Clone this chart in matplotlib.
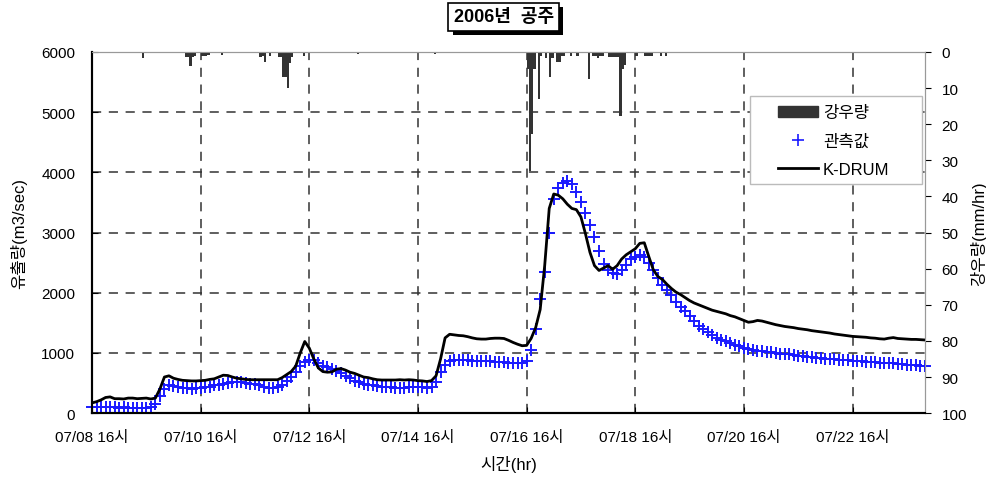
import numpy as np
import matplotlib.pyplot as plt
from matplotlib.patches import Patch, Rectangle
from matplotlib.lines import Line2D
import matplotlib.patheffects as pe

plt.rcParams['font.family'] = ['Liberation Sans', 'Noto Sans CJK KR', 'DejaVu Sans']
plt.rcParams['axes.unicode_minus'] = False

# observed discharge (m3/sec), every 2 hours from 07/08 16시
obs = [110, 100, 110, 100, 110, 100, 90, 100, 90, 80, 90, 80, 90, 110, 150, 280, 400, 460, 450, 430,
       420, 410, 400, 410, 420, 430, 440, 460, 470, 490, 500, 510, 515, 510, 500, 490, 480, 460, 440, 420,
       415, 430, 470, 530, 600, 690, 780, 850, 890, 880, 830, 790, 760, 730, 700, 660, 620, 580, 540, 510,
       490, 470, 460, 450, 440, 430, 430, 420, 420, 420, 430, 430, 430, 430, 420, 440, 520, 690, 800, 860,
       880, 890, 890, 880, 870, 870, 860, 860, 860, 850, 850, 850, 840, 840, 840, 840, 860, 1050, 1400, 1900,
       2350, 3000, 3560, 3740, 3820, 3860, 3800, 3680, 3500, 3320, 3130, 2930, 2700, 2480, 2380, 2330, 2310, 2380, 2460, 2560,
       2600, 2620, 2600, 2500, 2380, 2240, 2130, 2040, 1960, 1850, 1770, 1690, 1610, 1530, 1450, 1390, 1340, 1290, 1250, 1220,
       1190, 1160, 1130, 1110, 1090, 1070, 1050, 1040, 1030, 1020, 1010, 1000, 990, 980, 975, 965, 955, 945, 935, 925,
       915, 910, 905, 900, 895, 885, 880, 875, 870, 865, 860, 855, 850, 845, 840, 835, 830, 825, 820, 812,
       805, 800, 795, 790, 785]

# K-DRUM simulated discharge, every 2 hours
sim = [170, 190, 220, 260, 270, 240, 240, 235, 250, 250, 240, 245, 250, 235, 250, 400, 600, 620, 580, 560,
       545, 540, 535, 535, 540, 545, 560, 570, 600, 630, 625, 600, 580, 570, 560, 555, 555, 555, 555, 555,
       555, 555, 590, 640, 690, 780, 1000, 1190, 1080, 900, 750, 690, 680, 685, 730, 740, 715, 680, 660, 630,
       600, 590, 570, 555, 550, 550, 550, 550, 555, 550, 555, 550, 540, 535, 525, 540, 620, 900, 1250, 1310,
       1300, 1290, 1285, 1270, 1250, 1235, 1230, 1230, 1240, 1245, 1245, 1240, 1210, 1175, 1145, 1120, 1125, 1240, 1420, 1720,
       2450, 3400, 3640, 3620, 3560, 3470, 3400, 3380, 3260, 2980, 2670, 2450, 2370, 2410, 2450, 2390, 2450, 2560, 2630, 2680,
       2730, 2820, 2830, 2600, 2380, 2270, 2220, 2140, 2070, 2010, 1970, 1920, 1870, 1830, 1800, 1770, 1740, 1710, 1690, 1670,
       1650, 1620, 1600, 1570, 1540, 1510, 1520, 1540, 1530, 1510, 1490, 1470, 1455, 1440, 1430, 1420, 1405, 1395, 1385, 1370,
       1360, 1350, 1340, 1330, 1315, 1305, 1295, 1285, 1275, 1270, 1265, 1260, 1250, 1245, 1235, 1230, 1245, 1255, 1240, 1235,
       1230, 1225, 1225, 1220, 1215]

# hourly rainfall (mm/hr), hour index from 07/08 16시
rain_hr = [22, 41, 42, 43, 44, 45, 48, 49, 50, 51, 57, 74, 75, 76, 78, 82, 83, 84, 85, 86,
           87, 88, 93, 117, 151, 192, 193, 194, 195, 197, 198, 200, 202, 203, 205, 206, 207, 208, 211, 214,
           219, 221, 222, 223, 224, 225, 228, 229, 230, 231, 232, 233, 234, 235, 240, 244, 245, 246, 247, 251, 253]
rain_mm = [1.7, 1.4, 1.4, 4.0, 1.4, 1.0, 1.0, 1.0, 1.0, 0.8, 0.8, 1.4, 1.0, 2.8, 1.0, 1.5, 1.5, 7.0, 7.0, 10.0,
           3.0, 1.5, 1.0, 0.5, 0.5, 4.7, 33.0, 22.7, 4.7, 13.0, 1.0, 1.7, 7.0, 1.7, 2.8, 2.8, 1.0, 1.0, 1.0, 1.0,
           7.5, 1.2, 1.2, 1.7, 1.2, 1.0, 1.5, 1.5, 1.5, 1.5, 1.5, 17.7, 4.7, 3.7, 1.0, 1.0, 1.0, 1.0, 1.0, 1.0, 1.0]

tick_labels = ['07/08 16시', '07/10 16시', '07/12 16시', '07/14 16시',
               '07/16 16시', '07/18 16시', '07/20 16시', '07/22 16시']

hours = np.arange(len(obs)) * 2
hours_sim = np.arange(len(sim)) * 2

fig = plt.figure(figsize=(9.86, 4.81), dpi=100)
ax = fig.add_axes([0.0933, 0.139, 0.8448, 0.751])
ax2 = ax.twinx()

ax.plot(hours, obs, linestyle='none', marker='+', color='#1a1aff', markersize=9, mew=1.4, zorder=3, clip_on=False)
ax.plot(hours_sim, sim, color='black', lw=2, zorder=4)

ax2.bar(rain_hr, rain_mm, width=1.0, color='#333333', align='edge')
ax2.set_ylim(100, 0)
ax2.set_yticks(np.arange(0, 101, 10))

ax.set_xlim(0, 368)
ax.set_ylim(0, 6000)
ax.set_yticks(np.arange(0, 6001, 1000))
ax.set_xticks(np.arange(len(tick_labels)) * 48)
ax.set_xticklabels(tick_labels)
ax.grid(True, color='#333333', linestyle=(0, (6, 5)), lw=1.1)
ax.set_axisbelow(True)

for a in (ax, ax2):
    a.tick_params(labelsize=11, length=4)
ax.tick_params(direction='in')
ax.tick_params(axis='y', pad=12)
ax.tick_params(axis='x', pad=12)
ax2.tick_params(direction='out', pad=8)
for a in (ax, ax2):
    a.spines['top'].set_color('#999999')
    a.spines['right'].set_color('#999999')
    a.spines['left'].set_linewidth(1.5)
    a.spines['bottom'].set_linewidth(1.5)

ax.set_ylabel('유출량(m3/sec)', fontsize=12, labelpad=10)
ax2.set_ylabel('강우량(mm/hr)', fontsize=12, rotation=90, labelpad=2)
ax.set_xlabel('시간(hr)', fontsize=12, labelpad=8)

# legend frame drawn separately (wide padding as in the original)
ax2.add_patch(Rectangle((0.790, 0.634), 0.206, 0.244, transform=ax2.transAxes,
                        facecolor='white', edgecolor='#bbbbbb', lw=1.0, zorder=9))
handles = [Patch(facecolor='#333333', edgecolor='#333333'),
           Line2D([], [], linestyle='none', marker='+', color='#1a1aff', markersize=8, mew=1.2),
           Line2D([], [], color='black', lw=2)]
leg = ax2.legend(handles, ['강우량', '관측값', 'K-DRUM'], loc='upper left',
                 bbox_to_anchor=(0.8235, 0.852), fontsize=12, frameon=False,
                 handlelength=2.4, handletextpad=0.3, borderpad=0, borderaxespad=0,
                 labelspacing=0.8)
leg.set_zorder(10)

t = fig.text(0.511, 0.963, '2006년  공주', ha='center', va='center', fontsize=13, fontweight='bold',
             bbox=dict(boxstyle='square,pad=0.3', fc='white', ec='black', lw=1.2))
t.get_bbox_patch().set_path_effects([pe.SimplePatchShadow(offset=(3, -3), shadow_rgbFace='black', alpha=1), pe.Normal()])

fig.savefig('out.png', dpi=100)
